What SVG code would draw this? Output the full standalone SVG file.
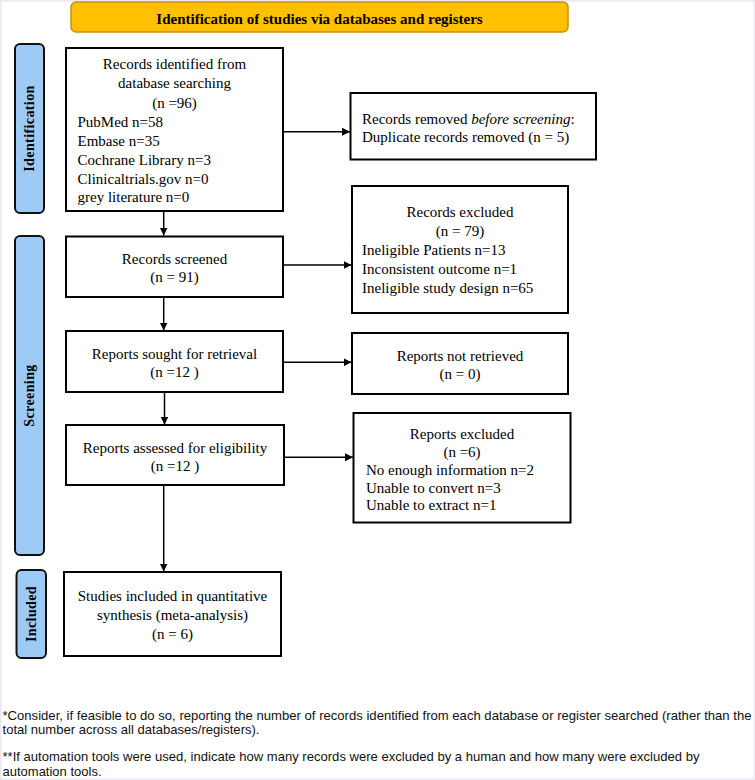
<svg xmlns="http://www.w3.org/2000/svg" width="755" height="780" viewBox="0 0 755 780">
<defs>
<style>
.box{fill:#fff;stroke:#000;stroke-width:2}
.side{fill:#9ECBF5;stroke:#111;stroke-width:2}
.t{font-family:"Liberation Serif","Times New Roman",serif;font-size:15px;fill:#000}
.c{text-anchor:middle}
.lab{font-family:"Liberation Serif","Times New Roman",serif;font-size:14px;font-weight:bold;fill:#000;text-anchor:middle;dominant-baseline:central;letter-spacing:0.4px}
.fn{font-family:"Liberation Sans",Arial,sans-serif;font-size:13px;fill:#111}
.con{stroke:#000;stroke-width:1.5;fill:none}
</style>
<marker id="ah" viewBox="0 0 10 10" refX="10" refY="5" markerWidth="8" markerHeight="8" markerUnits="userSpaceOnUse" orient="auto">
<path d="M0,0 L10,5 L0,10 z" fill="#000"/>
</marker>
</defs>
<rect x="0" y="0" width="755" height="780" fill="#fff"/>
<rect x="0.75" y="0.75" width="753.5" height="778.5" fill="none" stroke="#ECE8F4" stroke-width="1.5"/>

<g id="title">
<rect x="71" y="2" width="497" height="30" rx="5" fill="#FFC000" stroke="#C8910A" stroke-width="1.5"/>
<text x="319.5" y="24" class="t c" font-weight="bold">Identification of studies via databases and registers</text>
</g>

<g id="label-identification">
<rect x="15" y="44" width="29" height="169" rx="5" class="side"/>
<text class="lab" transform="translate(29.5,128.5) rotate(-90)">Identification</text>
</g>
<g id="label-screening">
<rect x="15" y="236" width="29" height="319" rx="5" class="side"/>
<text class="lab" transform="translate(29.5,395.5) rotate(-90)">Screening</text>
</g>
<g id="label-included">
<rect x="16.5" y="570" width="29.5" height="88" rx="5" class="side"/>
<text class="lab" transform="translate(31.3,614) rotate(-90)">Included</text>
</g>

<g id="records-identified">
<rect x="66" y="48" width="217" height="163" class="box"/>
<text class="t c" x="174.5" y="69">Records identified from</text>
<text class="t c" x="174.5" y="88">database searching</text>
<text class="t c" x="174.5" y="107.5">(n =96)</text>
<text class="t" x="77.5" y="126.5">PubMed n=58</text>
<text class="t" x="77.5" y="145.5">Embase n=35</text>
<text class="t" x="77.5" y="164.5">Cochrane Library n=3</text>
<text class="t" x="77.5" y="183.5">Clinicaltrials.gov n=0</text>
<text class="t" x="77.5" y="202">grey literature n=0</text>
</g>

<g id="records-removed">
<rect x="350.5" y="93" width="245.5" height="66.5" class="box"/>
<text class="t" x="362" y="124">Records removed <tspan font-style="italic">before screening</tspan>:</text>
<text class="t" x="362" y="141.5">Duplicate records removed (n = 5)</text>
</g>

<g id="records-screened">
<rect x="66" y="236.5" width="217" height="60.5" class="box"/>
<text class="t c" x="174.5" y="263.5">Records screened</text>
<text class="t c" x="174.5" y="282">(n = 91)</text>
</g>

<g id="records-excluded">
<rect x="352" y="186" width="216" height="127" class="box"/>
<text class="t c" x="460" y="216.5">Records excluded</text>
<text class="t c" x="460" y="235.5">(n = 79)</text>
<text class="t" x="362" y="254.5">Ineligible Patients n=13</text>
<text class="t" x="362" y="273.5">Inconsistent outcome n=1</text>
<text class="t" x="362" y="292.5">Ineligible study design n=65</text>
</g>

<g id="reports-sought">
<rect x="66" y="331" width="217" height="61" class="box"/>
<text class="t c" x="174.5" y="358.5">Reports sought for retrieval</text>
<text class="t c" x="174.5" y="377">(n =12 )</text>
</g>

<g id="reports-not-retrieved">
<rect x="352" y="333" width="216" height="61" class="box"/>
<text class="t c" x="460" y="361">Reports not retrieved</text>
<text class="t c" x="460" y="379">(n = 0)</text>
</g>

<g id="reports-assessed">
<rect x="66" y="425" width="218" height="60" class="box"/>
<text class="t c" x="175" y="452.5">Reports assessed for eligibility</text>
<text class="t c" x="175" y="470.5">(n =12 )</text>
</g>

<g id="reports-excluded">
<rect x="353.5" y="413" width="217" height="109.5" class="box"/>
<text class="t c" x="462" y="439">Reports excluded</text>
<text class="t c" x="462" y="457">(n =6)</text>
<text class="t" x="366" y="475">No enough information n=2</text>
<text class="t" x="366" y="492.5">Unable to convert n=3</text>
<text class="t" x="366" y="509.5">Unable to extract n=1</text>
</g>

<g id="studies-included">
<rect x="64" y="572" width="217" height="84" class="box"/>
<text class="t c" x="172.5" y="601">Studies included in quantitative</text>
<text class="t c" x="172.5" y="620">synthesis (meta-analysis)</text>
<text class="t c" x="172.5" y="638.5">(n = 6)</text>
</g>

<g id="connectors">
<line class="con" x1="283" y1="131.7" x2="350" y2="131.7" marker-end="url(#ah)"/>
<line class="con" x1="163.7" y1="211" x2="163.7" y2="235.5" marker-end="url(#ah)"/>
<line class="con" x1="283" y1="265" x2="351.5" y2="265" marker-end="url(#ah)"/>
<line class="con" x1="163.7" y1="297" x2="163.7" y2="330.5" marker-end="url(#ah)"/>
<line class="con" x1="283" y1="362.3" x2="351.5" y2="362.3" marker-end="url(#ah)"/>
<line class="con" x1="164.5" y1="392" x2="164.5" y2="424.5" marker-end="url(#ah)"/>
<line class="con" x1="284" y1="457.3" x2="353" y2="457.3" marker-end="url(#ah)"/>
<line class="con" x1="163.7" y1="485" x2="163.7" y2="571.5" marker-end="url(#ah)"/>
</g>

<g id="footnotes">
<text class="fn" x="2.5" y="719.5" textLength="749" lengthAdjust="spacingAndGlyphs">*Consider, if feasible to do so, reporting the number of records identified from each database or register searched (rather than the</text>
<text class="fn" x="2.5" y="734" textLength="257" lengthAdjust="spacingAndGlyphs">total number across all databases/registers).</text>
<text class="fn" x="2.5" y="760.5" textLength="697" lengthAdjust="spacingAndGlyphs">**If automation tools were used, indicate how many records were excluded by a human and how many were excluded by</text>
<text class="fn" x="2.5" y="776" textLength="99" lengthAdjust="spacingAndGlyphs">automation tools.</text>
</g>
</svg>
